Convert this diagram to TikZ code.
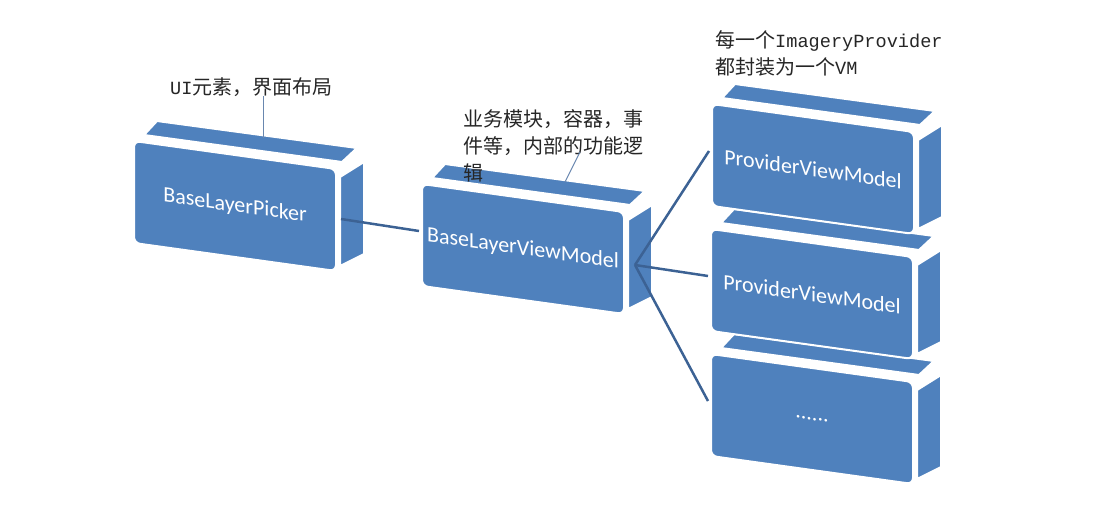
\documentclass[tikz,border=0pt]{standalone}
\usepackage{fontspec}
\setmainfont{Carlito}
\setmonofont{Liberation Mono}[Scale=0.93]
\newfontfamily\cjk{Noto Sans CJK SC}
\usepackage{tikz}
\usepackage{xcolor}

\definecolor{boxblue}{RGB}{79,129,189}
\definecolor{linkblue}{RGB}{60,98,148}
\definecolor{leadblue}{RGB}{105,135,175}

\tikzset{
  face/.style={fill=boxblue, draw=white, line width=2pt},
  front/.style={face, rounded corners=6pt},
  boxtext/.style={text=white, font=\fontsize{22}{22}\selectfont, yslant=-0.14},
  link/.style={draw=linkblue, line width=2.5pt},
  lead/.style={draw=leadblue, line width=1pt},
  note/.style={align=left, inner sep=0pt, anchor=north west, text=black!85,
    font=\cjk\fontsize{20}{27}\selectfont}
}

% one block: name, x, y of front corner, text
\newcommand{\vmbox}[4]{%
  \begin{scope}[shift={(#2,#3)}]
    \path[face] (9,-7) -- (22,-21) -- (222,6) -- (207,20) -- cycle;
    \path[face] (205,35) -- (229,20) -- (229,112) -- (205,124) -- cycle;
    \path[front] (-1,-1) -- (201,27) -- (201,129) -- (-1,101) -- cycle;
    \node[boxtext] (#1) at (100,64) {#4};
    \coordinate (#1-w) at (-4,46);
    \coordinate (#1-e) at (206,77);
    \coordinate (#1-hub) at (212,80);
  \end{scope}}

\begin{document}
\begin{tikzpicture}[x=1pt, y=-1pt]
  \useasboundingbox (0,0) rectangle (1098,511);

  \vmbox{pick}{135}{142}{BaseLayerPicker}
  \vmbox{bvm}{423}{185}{BaseLayerViewModel}
  \vmbox{more}{712}{355}{......}
  \vmbox{pvm2}{712}{230}{ProviderViewModel}
  \vmbox{pvm1}{713}{105}{ProviderViewModel}

  % labels
  \node[note] (ui) at (170,77) {\texttt{UI}元素，界面布局};
  \node[note] (biz) at (463,109) {业务模块，容器，事\\件等，内部的功能逻\\辑};
  \node[note] (wrap) at (715,30) {每一个\texttt{ImageryProvider}\\都封装为一个\texttt{VM}};

  \coordinate (ui-end) at (263,138);
  \coordinate (biz-start) at (580,152);
  \coordinate (biz-end) at (565,182);
  \draw[lead] (ui.south -| ui-end) -- (ui-end);
  \draw[lead] (biz-start) -- (biz-end);

  % connectors
  \draw[link] (pick-e) -- (bvm-w);
  \foreach \p in {pvm1,pvm2,more}
    \draw[link] (bvm-hub) -- (\p-w);
\end{tikzpicture}
\end{document}
